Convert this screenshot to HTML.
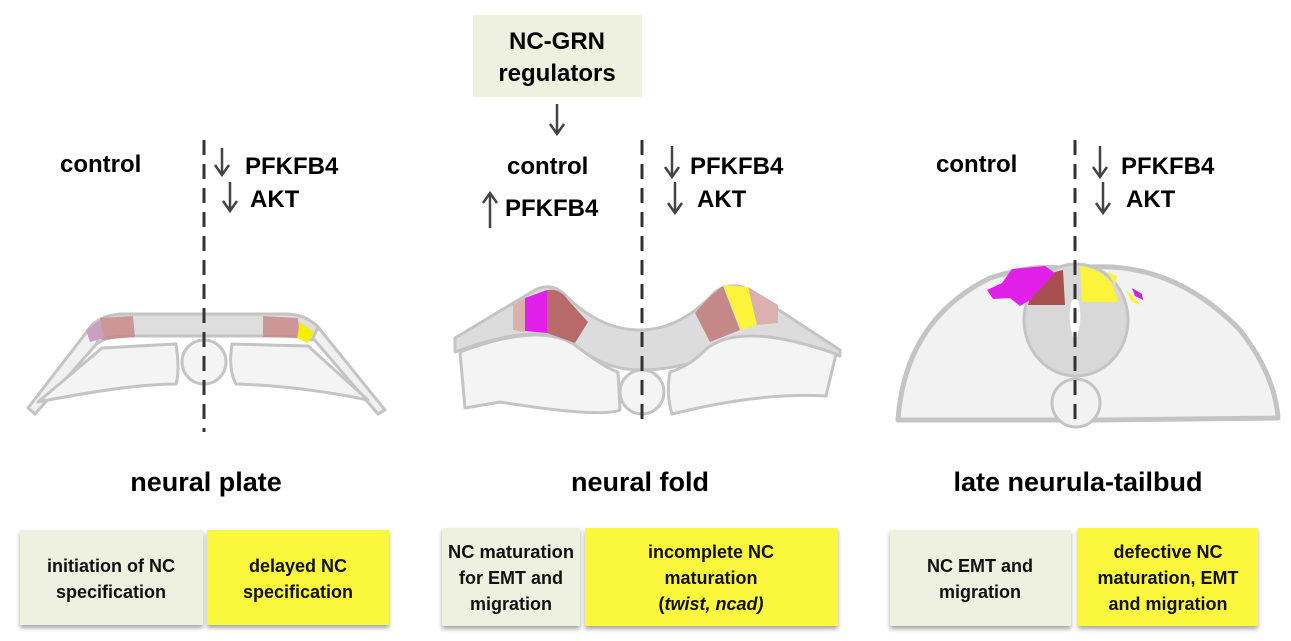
<!DOCTYPE html>
<html><head><meta charset="utf-8"><style>
body{margin:0;background:#fff;width:1291px;height:641px;overflow:hidden}
svg{display:block}
.t{font-family:"Liberation Sans",Arial,sans-serif;font-weight:bold;fill:#000}
.b{font-family:"Liberation Sans",Arial,sans-serif;font-weight:bold;font-size:18px;fill:#111;text-anchor:middle}
</style></head><body>
<svg width="1291" height="641" viewBox="0 0 1291 641" xmlns="http://www.w3.org/2000/svg">
<defs>
<filter id="sh" x="-5%" y="-5%" width="110%" height="120%"><feDropShadow dx="0" dy="3" stdDeviation="2" flood-color="#000" flood-opacity="0.35"/></filter>
</defs>
<g fill="none" stroke="#444" stroke-width="2.5">
<path d="M222 148 V174 M215 165 L222 175 L229 165"/>
<path d="M230 182 V210 M223 201 L230 211 L237 201"/>
<path d="M557 104 V133 M550 124 L557 134 L564 124"/>
<path d="M490 228 V194 M483 203 L490 193 L497 203"/>
<path d="M672 146 V176 M665 167 L672 177 L679 167"/>
<path d="M675 182 V212 M668 203 L675 213 L682 203"/>
<path d="M1100 146 V176 M1093 167 L1100 177 L1107 167"/>
<path d="M1103 182 V212 M1096 203 L1103 213 L1110 203"/>
</g>
<rect x="473" y="15" width="169" height="82" fill="#eef1df"/>
<text class="t" x="557" y="49" font-size="24" text-anchor="middle">NC-GRN</text>
<text class="t" x="557" y="81" font-size="24" text-anchor="middle">regulators</text>
<text class="t" x="60" y="172" font-size="24">control</text>
<text class="t" x="245" y="174" font-size="24">PFKFB4</text>
<text class="t" x="250" y="207" font-size="24">AKT</text>
<text class="t" x="507" y="174" font-size="24">control</text>
<text class="t" x="505" y="216" font-size="24">PFKFB4</text>
<text class="t" x="690" y="174" font-size="24">PFKFB4</text>
<text class="t" x="697" y="207" font-size="24">AKT</text>
<text class="t" x="936" y="172" font-size="24">control</text>
<text class="t" x="1121" y="174" font-size="24">PFKFB4</text>
<text class="t" x="1126" y="207" font-size="24">AKT</text>

<g stroke="#c4c4c4" stroke-width="3" stroke-linejoin="round">
<path d="M28 408 L92 325 Q104 314 125 314 L285 314 Q305 314 318 327 L385 410 L378 414 L312 337 Q300 330 285 330 L125 330 Q108 330 100 340 L35 414 Z" fill="#f0f0f0"/>
<path d="M92 325 Q104 314 125 314 L285 314 Q305 314 318 327 L312 340 Q300 336 285 336 L125 336 Q108 336 98 343 Z" fill="#dedede"/>
<path d="M38 402 L102 348 L176 344 Q180 370 176 384 Q130 384 38 402 Z" fill="#f4f4f4"/>
<path d="M232 344 L308 346 L368 400 Q300 386 236 384 Q228 370 232 344 Z" fill="#f4f4f4"/>
<circle cx="204" cy="362" r="22" fill="#f4f4f4"/>
</g>
<path d="M100 318 L133 316 L135 337 L102 340 Z" fill="#c98585" opacity="0.8"/>
<path d="M86 330 L100 320 L104 338 L90 342 Z" fill="#c9a0c0"/>
<path d="M263 316 L298 318 L300 338 L263 337 Z" fill="#c98585" opacity="0.8"/>
<path d="M300 322 L314 332 L308 343 L297 338 Z" fill="#f4f000"/>

<g stroke="#c4c4c4" stroke-width="3" stroke-linejoin="round">
<path d="M455 338 L535 290 Q552 282 565 295 Q600 330 640 330 Q680 330 715 292 Q730 282 745 288 L840 350 L840 356 Q740 320 700 360 Q670 370 640 370 Q605 370 575 345 Q540 320 455 352 Z" fill="#dcdcdc"/>
<path d="M460 352 Q540 322 575 345 Q605 368 618 372 L620 410 Q600 418 500 402 L465 408 Z" fill="#f4f4f4"/>
<path d="M670 372 Q690 366 705 350 Q740 320 836 354 L826 396 Q760 392 672 414 Q666 395 670 372 Z" fill="#f4f4f4"/>
<circle cx="642" cy="392" r="22" fill="#f4f4f4"/>
</g>
<path d="M513 305 L525 298 L525 332 L513 330 Z" fill="#ddb0b0"/>
<path d="M525 298 L547 290 L547 333 L525 331 Z" fill="#e020e8"/>
<path d="M547 290 Q560 288 568 300 L588 322 L575 343 L547 333 Z" fill="#b86a6a"/>
<path d="M695 313 Q710 295 723 286 L740 330 L710 342 Z" fill="#c48888"/>
<path d="M723 285 L748 287 L757 325 L741 330 Z" fill="#fbf43a"/>
<path d="M748 287 L778 305 L778 323 L757 325 Z" fill="#ddb0b0"/>

<g stroke="#c4c4c4" stroke-width="3" stroke-linejoin="round">
<path d="M898 420 Q905 320 990 278 Q1040 262 1070 270 L1080 268 Q1170 258 1240 330 Q1275 375 1278 418 L1100 420 L1050 420 Z" fill="#f2f2f2" stroke-width="5"/>
<ellipse cx="1076" cy="320" rx="52" ry="56" fill="#d8d8d8"/>
<circle cx="1076" cy="403" r="24" fill="#f2f2f2"/>
</g>
<path d="M1072 300 Q1066 320 1075 342 Q1084 320 1078 300 Z" fill="#fff"/>
<path d="M1028 305 Q1035 275 1063 270 L1065 305 Z" fill="#a85050"/>
<path d="M1080 266 Q1112 270 1118 302 L1082 302 Z" fill="#fbf43a"/>
<path d="M987 290 L1002 283 L1012 269 L1045 266 L1055 273 L1030 300 L1020 306 L1010 298 L993 299 Z" fill="#e020e8"/>
<path d="M1107 272 L1117 276 L1115 285 Z M1126 290 L1135 298 L1140 305 L1132 302 Z" fill="#fbf43a"/>
<path d="M1132 288 L1142 294 L1143 300 L1135 296 Z" fill="#d020e0"/>

<g stroke="#333" stroke-width="3" stroke-dasharray="15 9">
<line x1="204" y1="140" x2="204" y2="432"/>
<line x1="642" y1="140" x2="642" y2="425"/>
<line x1="1075" y1="140" x2="1075" y2="425"/>
</g>

<text class="t" x="206" y="491" font-size="27" text-anchor="middle">neural plate</text>
<text class="t" x="640" y="491" font-size="27" text-anchor="middle">neural fold</text>
<text class="t" x="1078" y="491" font-size="27" text-anchor="middle">late neurula-tailbud</text>

<g filter="url(#sh)">
<rect x="20" y="530" width="183" height="95" fill="#eef1df"/>
<rect x="207" y="530" width="182" height="95" fill="#fbf73c"/>
<rect x="442" y="528" width="138" height="98" fill="#eef1df"/>
<rect x="585" y="528" width="253" height="98" fill="#fbf73c"/>
<rect x="890" y="530" width="181" height="96" fill="#eef1df"/>
<rect x="1078" y="528" width="180" height="98" fill="#fbf73c"/>
</g>
<text class="b" x="111" y="572">initiation of NC</text>
<text class="b" x="111" y="598">specification</text>
<text class="b" x="298" y="572">delayed NC</text>
<text class="b" x="298" y="598">specification</text>
<text class="b" x="511" y="558" textLength="126" lengthAdjust="spacingAndGlyphs">NC maturation</text>
<text class="b" x="511" y="584">for EMT and</text>
<text class="b" x="511" y="610">migration</text>
<text class="b" x="711" y="558">incomplete NC</text>
<text class="b" x="711" y="584">maturation</text>
<text class="b" x="711" y="610">(<tspan font-style="italic">twist, ncad)</tspan></text>
<text class="b" x="980" y="572">NC EMT and</text>
<text class="b" x="980" y="598">migration</text>
<text class="b" x="1168" y="558">defective NC</text>
<text class="b" x="1168" y="584">maturation, EMT</text>
<text class="b" x="1168" y="610">and migration</text>
</svg>
</body></html>
